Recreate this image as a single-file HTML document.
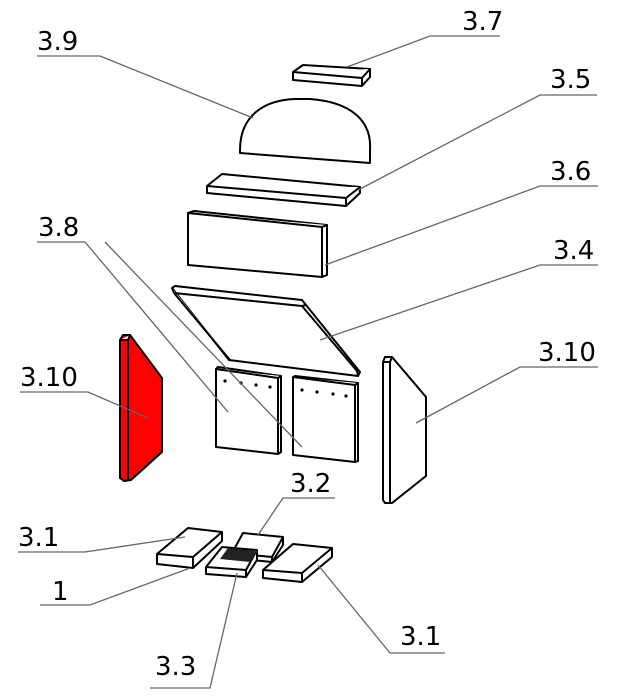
<!DOCTYPE html>
<html><head><style>html,body{margin:0;padding:0;background:#fff}svg{display:block}text{font-family:"DejaVu Sans","Liberation Sans",sans-serif;font-size:26px;fill:#000}</style></head>
<body>
<svg width="622" height="698" viewBox="0 0 622 698" xmlns="http://www.w3.org/2000/svg">
<g fill="#fff" stroke="#000" stroke-width="2" stroke-linejoin="round">
<path d="M293,72 L303,65 L370,69 L370,77 L362,86 L293,80 Z"/><path d="M293,72 L362,78 L370,69 M362,78 L362,86" />
<path d="M240,150 C240,115 265,100 295,99 L310,99 C350,102 372,120 370,150 L370,163 L240,153 Z"/>
<path d="M207,186 L222,174 L360,187 L360,193 L346,206 L207,193 Z"/><path d="M207,186 L346,198 L360,187 M346,198 L346,206"/>
<path d="M188,213 L194,211 L327,225 L327,275 L322,277 L188,265 Z"/><path d="M188,213 L322,227 L327,225 M322,227 L322,277"/>
<path d="M172,288 L175,286 L302,300 L306,305 L360,372 L358,376 L229,360 Z"/><path d="M172,288 L174,293 L230,360 M174,293 L302,306 L306,305 M302,306 L357,371 L358,376"/>
<path d="M216,369 L218,367 L281,376 L281,452 L278,454 L216,447 Z"/><path d="M216,369 L278,378 L281,376 M278,378 L278,454"/>
<path d="M293,377 L295,376 L358,383 L358,461 L355,462 L293,455 Z"/><path d="M293,377 L355,385 L358,383 M355,385 L355,462"/>
<path d="M383,362 L385,357 L392,357 L426,397 L426,476 L392,503 L385,503 L383,500 Z"/><path d="M383,362 L390,362 L392,357 M390,362 L390,503"/>
<path d="M120,340 L123,335 L130,335 L162,378 L162,452 L131,480 L124,481 L120,478 Z" fill="#f00"/><path d="M120,340 L128,340 L130,335 M128,340 L128,480" />
<path d="M157,554 L188,528 L222,532 L222,541 L193,568 L157,564 Z"/><path d="M157,554 L193,557 L222,532 M193,557 L193,568"/>
<path d="M232,553 L243,533 L283,537 L283,545 L272,562 L232,558 Z"/><path d="M232,553 L272,557 L283,537 M272,557 L272,562"/>
<path d="M206,567 L222,547 L257,550 L257,560 L246,577 L206,574 Z"/><path d="M206,567 L246,570 L257,550 M246,570 L246,577"/>
<path d="M228,548 L258,551 L250,562 L220,559 Z" fill="#222" stroke="none"/>
<path d="M263,570 L293,544 L332,548 L332,557 L302,582 L263,578 Z"/><path d="M263,570 L302,573 L332,548 M302,573 L302,582"/>
</g>
<g fill="#000">
<circle cx="225" cy="381" r="1.6"/><circle cx="241" cy="383" r="1.6"/><circle cx="256" cy="385" r="1.6"/><circle cx="270" cy="387" r="1.6"/>
<circle cx="302" cy="390" r="1.6"/><circle cx="317" cy="392" r="1.6"/><circle cx="333" cy="394" r="1.6"/><circle cx="346" cy="396" r="1.6"/>
</g>
<g fill="none" stroke="#666" stroke-width="1.3">
<polyline points="500,36 430,36 347,67"/>
<polyline points="37,56 100,56 253,118"/>
<polyline points="597,95 540,95 358,190"/>
<polyline points="598,186 540,186 325,265"/>
<polyline points="37,242 85,242 228,412"/><line x1="105" y1="242" x2="302" y2="447"/>
<polyline points="598,265 540,265 320,340"/>
<polyline points="20,392 88,392 148,418"/>
<polyline points="598,367 520,367 416,423"/>
<polyline points="335,498 283,498 258,535"/>
<polyline points="18,552 85,552 185,537"/>
<polyline points="40,605 90,605 190,568"/>
<polyline points="150,688 210,688 237,573"/>
<polyline points="445,653 390,653 318,565"/>
</g>
<text x="462" y="30">3.7</text>
<text x="37" y="50">3.9</text>
<text x="550" y="88">3.5</text>
<text x="550" y="180">3.6</text>
<text x="38" y="236">3.8</text>
<text x="553" y="259">3.4</text>
<text x="20" y="386">3.10</text>
<text x="538" y="361">3.10</text>
<text x="290" y="492">3.2</text>
<text x="18" y="546">3.1</text>
<text x="52" y="600">1</text>
<text x="155" y="675">3.3</text>
<text x="400" y="645">3.1</text>
</svg>
</body></html>
